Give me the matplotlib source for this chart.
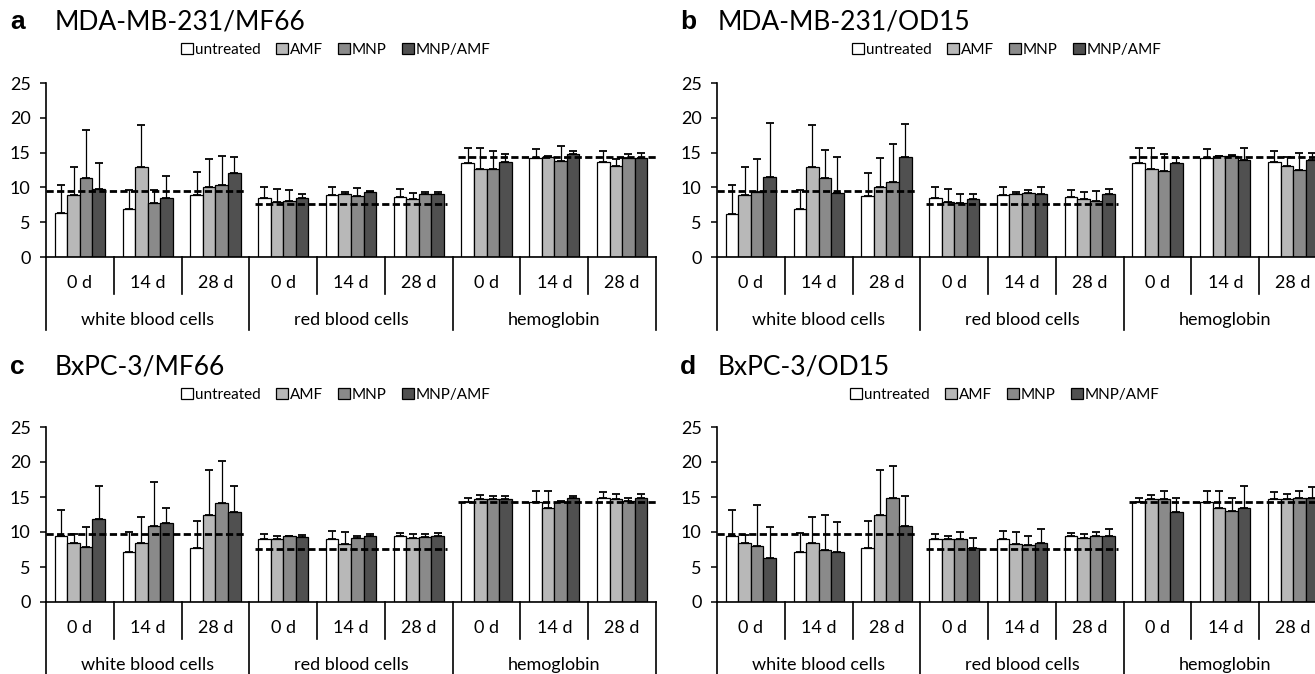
import numpy as np
import matplotlib.pyplot as plt
from matplotlib.patches import Patch

plt.rcParams['font.family'] = ['Lato', 'DejaVu Sans']

series = ['untreated', 'AMF', 'MNP', 'MNP/AMF']
colors = ['#ffffff', '#b8b8b8', '#8a8a8a', '#505050']
days = ['0 d', '14 d', '28 d']
categories = ['white blood cells', 'red blood cells', 'hemoglobin']

# one row per group (wbc 0/14/28 d, rbc 0/14/28 d, hb 0/14/28 d), one column per series
vals_a = [[6.3, 8.9, 11.4, 9.8], [6.9, 13.0, 7.7, 8.5], [8.85, 10.0, 10.3, 12.0],
          [8.5, 7.9, 8.0, 8.5], [8.85, 9.0, 8.7, 9.3], [8.6, 8.3, 9.0, 9.1],
          [13.5, 12.6, 12.6, 13.6], [14.2, 14.4, 13.8, 14.8], [13.6, 13.1, 14.2, 14.2]]
err_a = [[4.1, 4.1, 6.9, 3.7], [2.7, 5.9, 1.9, 3.1], [3.35, 4.1, 4.2, 2.3],
         [1.5, 1.9, 1.6, 0.6], [1.15, 0.3, 1.2, 0.2], [1.1, 0.9, 0.4, 0.2],
         [2.2, 3.1, 2.6, 1.2], [1.3, 0.1, 2.2, 0.5], [1.7, 1.0, 0.6, 0.8]]

vals_b = [[6.25, 8.9, 9.4, 11.5], [6.9, 12.9, 11.4, 9.2], [8.8, 10.0, 10.8, 14.3],
          [8.5, 7.9, 7.8, 8.4], [8.9, 9.0, 9.2, 9.0], [8.65, 8.4, 8.0, 9.0],
          [13.5, 12.6, 12.4, 13.5], [14.2, 14.5, 14.5, 13.9], [13.6, 13.1, 12.5, 13.9]]
err_b = [[4.05, 4.1, 4.7, 7.7], [2.7, 6.0, 4.0, 5.1], [3.3, 4.2, 5.5, 4.8],
         [1.5, 1.9, 1.2, 0.7], [1.1, 0.3, 0.4, 1.1], [0.95, 0.9, 1.5, 0.8],
         [2.1, 3.0, 2.4, 0.7], [1.3, 0.05, 0.2, 1.8], [1.7, 1.3, 2.4, 1.0]]

vals_c = [[9.5, 8.4, 7.8, 11.9], [7.2, 8.5, 10.8, 11.3], [7.7, 12.4, 14.2, 12.9],
          [9.0, 9.0, 9.4, 9.3], [9.0, 8.3, 9.1, 9.4], [9.4, 9.2, 9.3, 9.5],
          [14.3, 14.7, 14.7, 14.7], [14.3, 13.5, 14.3, 14.8], [14.8, 14.7, 14.5, 14.9]]
err_c = [[3.6, 1.3, 2.9, 4.7], [2.8, 3.7, 6.4, 2.2], [3.9, 6.5, 6.0, 3.7],
         [0.7, 0.4, 0.1, 0.3], [1.2, 1.7, 0.3, 0.3], [0.5, 0.5, 0.4, 0.4],
         [0.6, 0.6, 0.5, 0.5], [1.5, 2.3, 0.2, 0.3], [0.9, 0.7, 0.3, 0.5]]

vals_d = [[9.5, 8.4, 8.0, 6.3], [7.2, 8.5, 7.4, 7.1], [7.7, 12.4, 14.8, 10.9],
          [9.0, 9.0, 9.0, 7.7], [9.0, 8.3, 8.1, 8.5], [9.4, 9.2, 9.4, 9.4],
          [14.3, 14.7, 14.7, 12.8], [14.3, 13.4, 13.0, 13.5], [14.7, 14.7, 14.9, 14.9]]
err_d = [[3.7, 1.2, 5.9, 4.4], [2.7, 3.7, 5.1, 4.4], [3.9, 6.5, 4.7, 4.2],
         [0.7, 0.5, 1.0, 1.5], [1.2, 1.7, 1.4, 2.0], [0.5, 0.5, 0.6, 1.1],
         [0.6, 0.6, 1.2, 2.1], [1.5, 2.4, 1.8, 3.1], [1.0, 0.8, 0.9, 1.5]]

# dashed reference levels per category
ref_ab = [9.5, 7.6, 14.3]
ref_cd = [9.7, 7.6, 14.3]

W, H = 1315, 674
fig = plt.figure(figsize=(W / 100, H / 100), dpi=100)


def px_axes(left, top, bottom, width=610):
    return fig.add_axes([left / W, (H - bottom) / H, width / W, (bottom - top) / H])


def draw_panel(ax, vals, errs, ref, letter, title, title_x, letter_x, title_y, leg_x, leg_y):
    vals = np.array(vals)
    errs = np.array(errs)
    n = len(vals)
    x = np.arange(n) + 0.5
    bw = 0.185
    for j in range(4):
        ax.bar(x + (j - 1.5) * bw, vals[:, j], bw, color=colors[j], edgecolor='black',
               linewidth=0.9, zorder=2)
        ax.errorbar(x + (j - 1.5) * bw, vals[:, j], yerr=[np.zeros(n), errs[:, j]],
                    fmt='none', ecolor='black', elinewidth=0.9, capsize=3, capthick=1.3,
                    zorder=3)
    for k, r in enumerate(ref):
        x0 = 3 * k + (0.0 if k == 0 else 0.08)
        x1 = 3 * k + 2.92 if k < 2 else 9.0
        ax.plot([x0, x1], [r, r], color='black', lw=2.0, dashes=(2.6, 1.2), zorder=4)

    ax.set_xlim(0, n)
    ax.set_ylim(0, 25)
    ax.set_yticks(range(0, 26, 5))
    ax.tick_params(axis='y', direction='out', length=4, width=1.1, labelsize=13, pad=7)
    ax.set_xticks([])
    for s in ['top', 'right']:
        ax.spines[s].set_visible(False)
    for s in ['left', 'bottom']:
        ax.spines[s].set_linewidth(1.2)

    # two-level category axis
    h = ax.get_window_extent().height
    tr = ax.get_xaxis_transform()
    for k in range(n + 1):
        depth = 73 if k % 3 == 0 else 37
        ax.plot([k, k], [0, -depth / h], color='black', lw=1.2, transform=tr, clip_on=False)
    for i in range(n):
        ax.text(i + 0.5, -26 / h, days[i % 3], transform=tr, ha='center', va='center',
                fontsize=13)
    for k, c in enumerate(categories):
        ax.text(3 * k + 1.5, -63 / h, c, transform=tr, ha='center', va='center', fontsize=13)

    fig.text(letter_x / W, 1 - title_y / H, letter, fontsize=19, fontweight='bold',
             ha='left', va='center', family='Liberation Sans')
    fig.text(title_x / W, 1 - title_y / H, title, fontsize=19, ha='left', va='center')

    handles = [Patch(facecolor=colors[j], edgecolor='black', linewidth=0.9) for j in range(4)]
    ax.legend(handles, series, loc='center', bbox_to_anchor=(leg_x / W, 1 - leg_y / H),
              bbox_transform=fig.transFigure, ncol=4, frameon=False, fontsize=11,
              handlelength=0.75, handleheight=0.75, handletextpad=0.15, columnspacing=1.0,
              borderpad=0)


ax_a = px_axes(46, 83, 257)
ax_b = px_axes(717, 83, 257)
ax_c = px_axes(46, 427, 602)
ax_d = px_axes(717, 427, 602)

draw_panel(ax_a, vals_a, err_a, ref_ab, 'a', 'MDA-MB-231/MF66', 55, 10, 22, 336, 50)
draw_panel(ax_b, vals_b, err_b, ref_ab, 'b', 'MDA-MB-231/OD15', 718, 680, 22, 1007, 50)
draw_panel(ax_c, vals_c, err_c, ref_cd, 'c', 'BxPC-3/MF66', 55, 10, 367, 336, 395)
draw_panel(ax_d, vals_d, err_d, ref_cd, 'd', 'BxPC-3/OD15', 718, 680, 367, 1005, 395)

fig.savefig('out.png', dpi=100)
